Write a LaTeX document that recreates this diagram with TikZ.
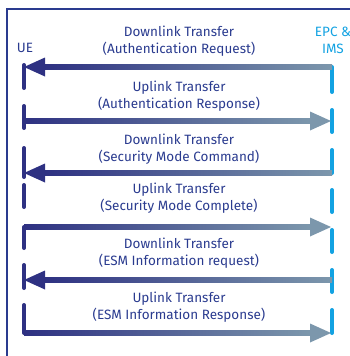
\documentclass[tikz,border=0pt]{standalone}
\usepackage{fontspec}
\setmainfont{Fira Sans}
\usetikzlibrary{calc}
\definecolor{uenavy}{HTML}{2E3182}
\definecolor{linkgray}{HTML}{7C97AC}
\definecolor{epcblue}{HTML}{12A2E2}
\definecolor{textnavy}{HTML}{2A3B8F}

\begin{document}
\begin{tikzpicture}[
  x=1pt, y=-1pt,
  msglabel/.style={align=center, text=textnavy, font=\fontsize{13.5}{17.5}\selectfont},
  uetick/.style={draw=uenavy, line width=4pt, line cap=round},
  epctick/.style={draw=epcblue, line width=4pt, line cap=round},
  shaft/.style={left color=uenavy, right color=linkgray, draw=none}
]
\useasboundingbox (0,0) rectangle (350,356);

% frame
\draw[textnavy, line width=1.2pt] (7,356) -- (7,9) -- (350,9);

% end points
\node[text=textnavy, font=\fontsize{13.5}{17}\selectfont] (UE) at (25,48) {UE};
\node[align=center, text=epcblue, font=\fontsize{13.5}{17}\selectfont] (EPC) at (333,40) {EPC \&\\IMS};

% UE lifeline
\draw[uetick] (24,65) -- (24,88);
\draw[uetick] (24,106) -- (24,128);
\draw[uetick] (24,148) -- (24,177);
\draw[uetick] (24,185) -- (24,207);
\draw[uetick] (24,227) -- (24,248);
\draw[uetick] (24,265) -- (24,288);
\draw[uetick] (24,305) -- (24,333);

% EPC lifeline
\draw[epctick] (332,67) -- (332,92);
\draw[epctick] (332,110) -- (332,132);
\draw[epctick] (332,150) -- (332,173);
\draw[epctick] (332,190) -- (332,212);
\draw[epctick] (332,230) -- (332,252);
\draw[epctick] (332,270) -- (332,292);
\draw[epctick] (332,310) -- (332,333);

% 1: downlink
\coordinate (ue1) at (24,67);
\coordinate (epc1) at (332,67);
\shade[shaft] ($(ue1)+(20,-2.5)$) rectangle ($(epc1)+(0,2.5)$);
\fill[uenavy] (ue1) -- ++(21,-9.5) -- ++(0,19) -- cycle;
\node[msglabel] (lab1) at (179,41) {Downlink Transfer\\(Authentication Request)};

% 2: uplink
\coordinate (ue2) at (24,121);
\coordinate (epc2) at (331,121);
\shade[shaft] ($(ue2)+(0,-2.5)$) rectangle ($(epc2)+(-20,2.5)$);
\fill[linkgray] (epc2) -- ++(-21,-9.5) -- ++(0,19) -- cycle;
\node[msglabel] (lab2) at (179,96) {Uplink Transfer\\(Authentication Response)};

% 3: downlink
\coordinate (ue3) at (24,173);
\coordinate (epc3) at (332,173);
\shade[shaft] ($(ue3)+(20,-2.5)$) rectangle ($(epc3)+(0,2.5)$);
\fill[uenavy] (ue3) -- ++(21,-9.5) -- ++(0,19) -- cycle;
\node[msglabel] (lab3) at (179,149) {Downlink Transfer\\(Security Mode Command)};

% 4: uplink
\coordinate (ue4) at (24,227);
\coordinate (epc4) at (331,227);
\shade[shaft] ($(ue4)+(0,-2.5)$) rectangle ($(epc4)+(-20,2.5)$);
\fill[linkgray] (epc4) -- ++(-21,-9.5) -- ++(0,19) -- cycle;
\node[msglabel] (lab4) at (179,198) {Uplink Transfer\\(Security Mode Complete)};

% 5: downlink
\coordinate (ue5) at (24,280);
\coordinate (epc5) at (332,280);
\shade[shaft] ($(ue5)+(20,-2.5)$) rectangle ($(epc5)+(0,2.5)$);
\fill[uenavy] (ue5) -- ++(21,-9.5) -- ++(0,19) -- cycle;
\node[msglabel] (lab5) at (179,253) {Downlink Transfer\\(ESM Information request)};

% 6: uplink
\coordinate (ue6) at (24,333);
\coordinate (epc6) at (331,333);
\shade[shaft] ($(ue6)+(0,-2.5)$) rectangle ($(epc6)+(-20,2.5)$);
\fill[linkgray] (epc6) -- ++(-21,-9.5) -- ++(0,19) -- cycle;
\node[msglabel] (lab6) at (179,307) {Uplink Transfer\\(ESM Information Response)};

\end{tikzpicture}
\end{document}
